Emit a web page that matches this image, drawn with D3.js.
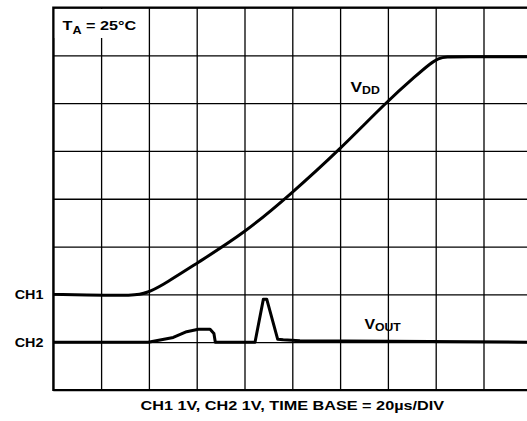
<!DOCTYPE html>
<html><head><meta charset="utf-8">
<script src="https://cdn.jsdelivr.net/npm/d3@7"></script>
<style>
body{margin:0;background:#fff;}
svg{display:block;}
text{font-family:"Liberation Sans",Arial,Helvetica,sans-serif;font-weight:bold;fill:#000;}
</style>
</head><body>
<svg id="chart" width="527" height="421"></svg>
<script>
// ---- data ----
const timeTicks = [0, 20, 40, 60, 80, 100, 120, 140, 160, 180, 200]; // µs (20µs/DIV)
const levelTicks = [0, 1, 2, 3, 4, 5, 6, 7, 8];                      // divisions
const ch1Offset = 2;   // CH1 ground level (div)
const ch2Offset = 1;   // CH2 ground level (div)
const channelLabels = ["CH1", "CH2"];

const vddTime  = [0, 23.7, 32.1, 36.3, 39.1, 44.6, 60, 79.9, 99, 119.7, 139.5, 152.1, 157.8, 161.1, 164.6, 170.2, 200];
const vddVolts = [0, -0.02, -0.02, 0, 0.035, 0.155, 0.65, 1.28, 2.08, 3.02, 4.03, 4.59, 4.83, 4.94, 4.97, 4.97, 4.97];

const voutTime  = [0, 39.7, 50.2, 55.8, 60.7, 65.6, 67.2, 67.8, 84.4, 87.9, 89.3, 93.9, 96.2, 103.2, 140.9, 200];
const voutVolts = [0, 0, 0.10, 0.22, 0.27, 0.27, 0.18, 0, 0, 0.9, 0.9, 0.06, 0.05, 0.03, 0.02, 0];

const tempLabel = ["T", "A", " = 25°C"];
const vddLabel = ["V", "DD"];
const voutLabel = ["V", "OUT"];
const captionText = "CH1 1V, CH2 1V, TIME BASE = 20µs/DIV";

// ---- layout ----
const svg = d3.select("#chart");
const pLeft = 53.3, pRight = 531.3, pTop = 7.5, pBottom = 390;
const x = d3.scaleLinear().domain([0, 200]).range([pLeft, pRight]);
const y = d3.scaleLinear().domain([0, 8]).range([pBottom, pTop]);

// grid via axes
const gx = svg.append("g").attr("transform", `translate(0,${pBottom})`)
  .call(d3.axisBottom(x).tickValues(timeTicks).tickSize(-(pBottom - pTop)).tickFormat(""));
const gy = svg.append("g").attr("transform", `translate(${pLeft},0)`)
  .call(d3.axisLeft(y).tickValues(levelTicks).tickSize(-(pRight - pLeft)).tickFormat(""));
[gx, gy].forEach(g => {
  g.select(".domain").remove();
  g.selectAll(".tick line").attr("stroke", "#000").attr("stroke-width", 1.3);
});

// frame (left, top, bottom)
svg.append("path")
  .attr("d", `M${pRight},${pTop}H${pLeft}V${pBottom}H${pRight}`)
  .attr("fill", "none").attr("stroke", "#000").attr("stroke-width", 2.2);

// temperature label box
svg.append("rect").attr("x", pLeft + 1.5).attr("y", pTop + 1.5)
  .attr("width", 88).attr("height", 29).attr("fill", "#fff");

function subLabel(px, py, parts, big, small, sx, dy) {
  const g = svg.append("g").attr("transform", `translate(${px},${py}) scale(${sx},1)`);
  const t = g.append("text").attr("x", 0).attr("y", 0).style("font-size", big + "px");
  t.append("tspan").text(parts[0]);
  t.append("tspan").attr("dy", dy).style("font-size", small + "px").text(parts[1]);
  if (parts[2]) t.append("tspan").attr("dy", -dy).text(parts[2]);
  return g;
}

subLabel(62.5, 29.5, tempLabel, 13.5, 10.5, 1.2, 4);
subLabel(350.5, 91.5, vddLabel, 15.5, 11, 1.12, 2);
subLabel(364.5, 328.5, voutLabel, 15, 11.5, 1.06, 2);

// traces
svg.append("path")
  .datum(vddTime.map((t, i) => [t, vddVolts[i] + ch1Offset]))
  .attr("d", d3.line().x(d => x(d[0])).y(d => y(d[1])).curve(d3.curveBasis))
  .attr("fill", "none").attr("stroke", "#000").attr("stroke-width", 3)
  .attr("stroke-linejoin", "round");
svg.append("path")
  .datum(voutTime.map((t, i) => [t, voutVolts[i] + ch2Offset]))
  .attr("d", d3.line().x(d => x(d[0])).y(d => y(d[1])))
  .attr("fill", "none").attr("stroke", "#000").attr("stroke-width", 3)
  .attr("stroke-linejoin", "round");

// channel labels
[ch1Offset, ch2Offset].forEach((lv, i) => {
  svg.append("g").attr("transform", `translate(43.5,${y(lv) + 5}) scale(1.15,1)`)
    .append("text").attr("text-anchor", "end").style("font-size", "12.5px").text(channelLabels[i]);
});

// caption
svg.append("g").attr("transform", `translate(${(pLeft + pRight) / 2},410) scale(1.3,1)`)
  .append("text").attr("text-anchor", "middle").style("font-size", "12.5px").text(captionText);
</script>
</body></html>
